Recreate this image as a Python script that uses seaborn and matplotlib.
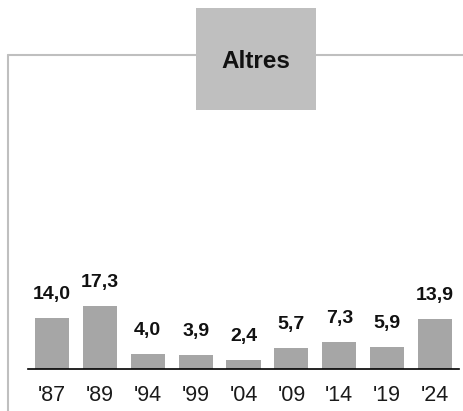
import matplotlib
matplotlib.use("Agg")
import matplotlib.pyplot as plt
import seaborn as sns
import pandas as pd
from matplotlib.lines import Line2D
from matplotlib.patches import Rectangle

years = ["'87", "'89", "'94", "'99", "'04", "'09", "'14", "'19", "'24"]
values = [14.0, 17.3, 4.0, 3.9, 2.4, 5.7, 7.3, 5.9, 13.9]
labels = ["14,0", "17,3", "4,0", "3,9", "2,4", "5,7", "7,3", "5,9", "13,9"]
title = "Altres"

sns.set_theme(style="white")
plt.rcParams['font.family'] = ['Liberation Sans', 'DejaVu Sans']

W, H = 464, 411
fig = plt.figure(figsize=(W / 100, H / 100), dpi=100)

def fx(px):
    return px / W

def fy(py):
    return 1 - py / H

# axes: x from 28 to 459 px, baseline at 368.7 px, top at 200 px
ax = fig.add_axes([fx(28), fy(368.7), fx(459) - fx(28), fy(200) - fy(368.7)])
df = pd.DataFrame({"year": years, "value": values})
sns.barplot(data=df, x="year", y="value", color="#a6a6a6", width=0.71,
            saturation=1, ax=ax, linewidth=0)
ax.set_xlim(-0.5, 8.5)
px_per_unit = 3.6
ax.set_ylim(0, 168.7 / px_per_unit)
for s in ["top", "right", "left"]:
    ax.spines[s].set_visible(False)
ax.spines["bottom"].set_color("black")
ax.spines["bottom"].set_linewidth(1.2)
ax.set_yticks([])
ax.set_xlabel("")
ax.set_ylabel("")
ax.tick_params(axis="x", length=0, pad=12, labelsize=15.5, colors="#1a1a1a")
for i, (v, lab) in enumerate(zip(values, labels)):
    ax.annotate(lab, (i, v), xytext=(0, 15), textcoords="offset pixels",
                ha="center", va="bottom", fontsize=14, fontweight="bold",
                color="#111111")

# frame lines
frame_col = "#bfbfbf"
fig.add_artist(Line2D([fx(8), fx(8)], [fy(55), fy(411)], color=frame_col,
                      linewidth=1.5, transform=fig.transFigure))
fig.add_artist(Line2D([fx(8), fx(196)], [fy(55), fy(55)], color=frame_col,
                      linewidth=1.5, transform=fig.transFigure))
fig.add_artist(Line2D([fx(316), fx(464)], [fy(55), fy(55)], color=frame_col,
                      linewidth=1.5, transform=fig.transFigure))
fig.add_artist(Rectangle((fx(196), fy(110.5)), fx(316.5) - fx(196),
                         fy(8.3) - fy(110.5), facecolor="#bfbfbf",
                         edgecolor="none", transform=fig.transFigure))
fig.text(fx(256), fy(61), title, ha="center", va="center", fontsize=17.5,
         fontweight="bold", color="#111111")

fig.savefig("out.png", dpi=100)
